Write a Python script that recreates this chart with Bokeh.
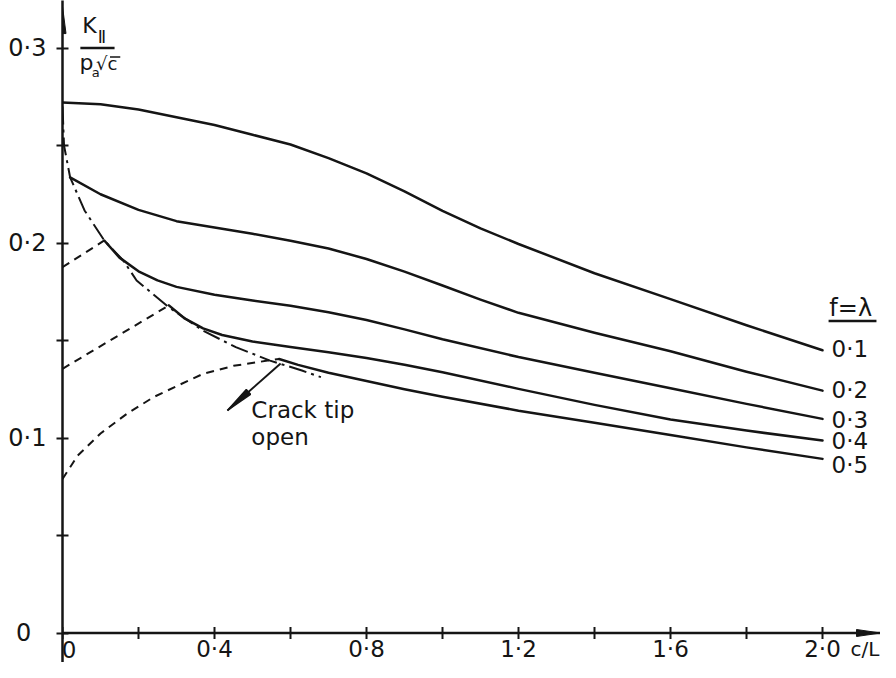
from bokeh.plotting import figure
from bokeh.models import FixedTicker, Range1d
from bokeh.core.properties import value
from bokeh.embed import file_html
from bokeh.resources import INLINE

FONT = "DejaVu Sans"
INK = "#151515"

# ---------------- data ----------------
f_labels = ["0·1", "0·2", "0·3", "0·4", "0·5"]

x_f01 = [0.0, 0.1, 0.2, 0.3, 0.4, 0.5, 0.6, 0.7, 0.8, 0.9, 1.0, 1.1, 1.2, 1.4, 1.6, 1.8, 2.0]
y_f01 = [0.272, 0.2712, 0.2685, 0.2645, 0.2605, 0.2555, 0.2505, 0.2435, 0.2357, 0.2265,
         0.2165, 0.2075, 0.1995, 0.1845, 0.1712, 0.1578, 0.1450]

x_f02 = [0.02, 0.1, 0.2, 0.3, 0.4, 0.5, 0.6, 0.7, 0.8, 0.9, 1.0, 1.1, 1.2, 1.4, 1.6, 1.8, 2.0]
y_f02 = [0.2337, 0.2250, 0.2170, 0.2112, 0.2080, 0.2047, 0.2012, 0.1972, 0.1918, 0.1853,
         0.1782, 0.1710, 0.1642, 0.1540, 0.1445, 0.1340, 0.1243]

x_f03 = [0.11, 0.15, 0.2, 0.25, 0.3, 0.4, 0.5, 0.6, 0.7, 0.8, 0.9, 1.0, 1.2, 1.4, 1.6, 1.8, 2.0]
y_f03 = [0.2013, 0.1925, 0.1855, 0.1808, 0.1775, 0.1735, 0.1705, 0.1678, 0.1645, 0.1605,
         0.1557, 0.1506, 0.1415, 0.1335, 0.1255, 0.1175, 0.1098]

x_f04 = [0.28, 0.32, 0.37, 0.42, 0.5, 0.6, 0.7, 0.8, 0.9, 1.0, 1.2, 1.4, 1.6, 1.8, 2.0]
y_f04 = [0.168, 0.1615, 0.1562, 0.1528, 0.1495, 0.1467, 0.1440, 0.1410, 0.1376, 0.1337,
         0.1252, 0.1170, 0.1095, 0.1038, 0.0987]

x_f05 = [0.57, 0.62, 0.7, 0.8, 0.9, 1.0, 1.2, 1.4, 1.6, 1.8, 2.0]
y_f05 = [0.1405, 0.1375, 0.1335, 0.1292, 0.1250, 0.1212, 0.1140, 0.1078, 0.1015, 0.0952, 0.0893]

# dash-dot envelope (crack tip closing)
x_env = [0.0, 0.004, 0.02, 0.058, 0.11, 0.16, 0.195, 0.28, 0.37, 0.456, 0.546, 0.63, 0.68]
y_env = [0.270, 0.250, 0.2337, 0.2167, 0.2013, 0.191, 0.1808, 0.167, 0.155, 0.1466, 0.1397,
         0.1346, 0.1312]

# dashed branches from the axis to the envelope
x_d1 = [0.0, 0.11]
y_d1 = [0.1876, 0.2013]
x_d2 = [0.0, 0.28]
y_d2 = [0.1355, 0.168]
x_d3 = [0.0, 0.04, 0.1, 0.17, 0.24, 0.31, 0.37, 0.45, 0.54, 0.57]
y_d3 = [0.079, 0.091, 0.1023, 0.1125, 0.121, 0.1275, 0.1329, 0.137, 0.1397, 0.1405]

# "Crack tip open" pointer
arrow_x = [0.574, 0.434]
arrow_y = [0.1382, 0.1141]

# series label positions at the right (centre of the figures)
label_y = [0.1454, 0.1244, 0.1092, 0.0985, 0.0862]
label_x = [2.024] * 5

x_ticks = [0, 0.2, 0.4, 0.6, 0.8, 1.0, 1.2, 1.4, 1.6, 1.8, 2.0]
x_tick_labels = ["0", "", "0·4", "", "0·8", "", "1·2", "", "1·6", "", "2·0"]
y_ticks = [0, 0.05, 0.1, 0.15, 0.2, 0.25, 0.3]
y_tick_labels = ["0\u2007", "", "0·1", "", "0·2", "", "0·3"]

# ---------------- figure ----------------
PX = 380.0    # pixels per unit c/L
PY = 1950.0   # pixels per unit K
W, H = 880, 662
LEFT = 62          # frame left edge  = c/L 0
AXIS_Y = 632.5     # pixel row of K = 0 (from the top)
X_END = (W - LEFT) / PX
Y_END = AXIS_Y / PY
Y_START = -(H - AXIS_Y) / PY

p = figure(width=W, height=H, x_range=Range1d(0, X_END), y_range=Range1d(Y_START, Y_END),
           output_backend="svg", toolbar_location=None, x_axis_location=None,
           min_border_left=LEFT, min_border_right=0, min_border_top=0, min_border_bottom=0)
p.outline_line_color = None
p.xgrid.visible = False
p.ygrid.visible = False
p.background_fill_color = "white"
p.border_fill_color = "white"

ax = p.yaxis[0]
ax.axis_line_color = INK
ax.axis_line_width = 2.5
ax.major_tick_line_color = INK
ax.major_tick_line_width = 2
ax.major_tick_in = 6
ax.major_tick_out = 6
ax.minor_tick_line_color = None
ax.major_label_text_font = FONT
ax.major_label_text_font_size = "24px"
ax.major_label_text_color = INK
ax.major_label_standoff = 10
ax.ticker = FixedTicker(ticks=y_ticks, minor_ticks=[])
ax.major_label_overrides = dict(zip(y_ticks, y_tick_labels))

mid = dict(text_font=value(FONT), text_color=INK, text_baseline="middle")

# ---- horizontal c/L axis: line, crossing ticks, labels, arrow ----
p.line([0, X_END], [0, 0], line_color=INK, line_width=2.5)
p.segment(x0=x_ticks, y0=[-6 / PY] * len(x_ticks), x1=x_ticks, y1=[6 / PY] * len(x_ticks),
          line_color=INK, line_width=2)
shown = [(t, s) for t, s in zip(x_ticks, x_tick_labels) if s]
label_xpos = [max(t, 6.5 / PX) for t, _ in shown]        # keep the "0" inside the frame
p.text(x=label_xpos, y=[-16 / PY] * len(shown), text=[s for _, s in shown],
       text_font_size="23px", text_align="center", **mid)
p.text(x=[(850 - LEFT) / PX], y=[-16 / PY], text=["c/L"],
       text_font_size="20px", text_align="left", **mid)
p.patch([X_END - 24 / PX, X_END, X_END - 24 / PX], [3.5 / PY, 0, -3.5 / PY],
        fill_color=INK, line_color=INK, line_width=1)
# arrow head on the vertical axis
p.patch([-3.5 / PX, 0, 3.5 / PX], [0.3074, 0.3213, 0.3074],
        fill_color=INK, line_color=INK, line_width=1)

# ---------------- curves ----------------
for xs, ys in [(x_f01, y_f01), (x_f02, y_f02), (x_f03, y_f03), (x_f04, y_f04), (x_f05, y_f05)]:
    p.line(xs, ys, line_color=INK, line_width=2.5, line_join="round", line_cap="round")

p.line(x_env, y_env, line_color=INK, line_width=2, line_dash="18 5 3 5")
for xs, ys in [(x_d1, y_d1), (x_d2, y_d2), (x_d3, y_d3)]:
    p.line(xs, ys, line_color=INK, line_width=2, line_dash="8 6")

# pointer with a slim wedge head
p.line(arrow_x, arrow_y, line_color=INK, line_width=2)
dxp = (arrow_x[1] - arrow_x[0]) * PX
dyp = (arrow_y[1] - arrow_y[0]) * PY
ln = (dxp ** 2 + dyp ** 2) ** 0.5
ux, uy = dxp / ln, dyp / ln
bx = arrow_x[1] - 28 * ux / PX
by = arrow_y[1] - 28 * uy / PY
p.patch([bx - 3.2 * uy / PX, arrow_x[1], bx + 3.2 * uy / PX],
        [by + 3.2 * ux / PY, arrow_y[1], by - 3.2 * ux / PY],
        fill_color=INK, line_color=INK, line_width=1.5)

# texts
p.text(x=label_x, y=label_y, text=f_labels, text_font_size="23px", text_align="left", **mid)
p.text(x=[2.018], y=[0.1666], text=["f=λ"], text_font_size="24px", text_align="left", **mid)
p.line([2.016, 2.142], [0.1600, 0.1600], line_color=INK, line_width=2.5)

p.text(x=[0.497, 0.497], y=[0.1144, 0.1004], text=["Crack tip", "open"],
       text_font_size="23px", text_align="left", **mid)

# y-axis quantity  K_II / (p_a sqrt(c))
p.text(x=[0.052], y=[0.3115], text=["K"], text_font_size="22px", text_align="left", **mid)
p.text(x=[0.093], y=[0.3056], text=["Ⅱ"], text_font_size="17px", text_align="left", **mid)
p.line([0.047, 0.137], [0.3000, 0.3000], line_color=INK, line_width=2.5)
p.text(x=[0.045], y=[0.2926], text=["p"], text_font_size="22px", text_align="left", **mid)
p.text(x=[0.077], y=[0.2874], text=["a"], text_font_size="13px", text_align="left", **mid)
p.text(x=[0.088], y=[0.2918], text=["√c"], text_font_size="18px", text_align="left", **mid)
p.line([0.125, 0.152], [0.2954, 0.2954], line_color=INK, line_width=1.5)

open("out.html", "w").write(file_html(p, INLINE))
